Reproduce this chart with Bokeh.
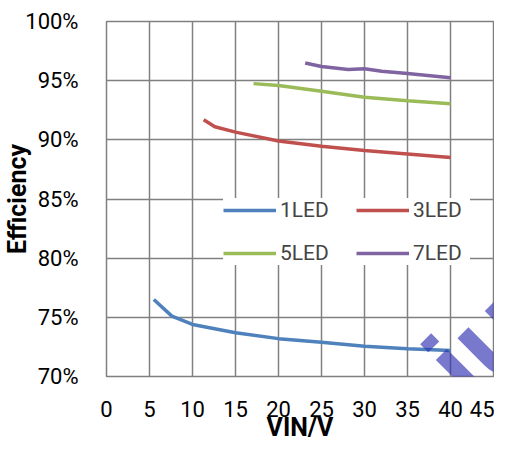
from bokeh.plotting import figure
from bokeh.models import Legend, LegendItem, Label, FixedTicker, PrintfTickFormatter, Range1d
from bokeh.embed import file_html
from bokeh.resources import INLINE

# Data
x_1led = [5.5, 7.6, 10, 15, 20, 25, 30, 35, 40]
y_1led = [76.5, 75.1, 74.4, 73.7, 73.2, 72.9, 72.55, 72.35, 72.2]
x_3led = [11.3, 12.6, 15, 20, 25, 30, 35, 40]
y_3led = [91.7, 91.1, 90.65, 89.9, 89.45, 89.1, 88.8, 88.5]
x_5led = [17.1, 20, 25, 30, 35, 40]
y_5led = [94.75, 94.6, 94.1, 93.6, 93.3, 93.05]
x_7led = [23.1, 25, 28.1, 30, 32, 35, 40]
y_7led = [96.5, 96.2, 95.95, 96.0, 95.8, 95.6, 95.25]
series_names = ["1LED", "3LED", "5LED", "7LED"]
series_colors = ["#4F81BD", "#C0504D", "#9BBB59", "#8064A2"]
x_ticks = [0, 5, 10, 15, 20, 25, 30, 35, 40, 45]
y_ticks = [70, 75, 80, 85, 90, 95, 100]

FONT = "Roboto"
GRID = "#808080"

p = figure(frame_width=387, frame_height=355, output_backend="svg", toolbar_location=None,
           x_range=Range1d(0, 45), y_range=Range1d(70, 100),
           min_border_left=104, min_border_right=1, min_border_top=21, min_border_bottom=66)
p.outline_line_color = GRID
p.outline_line_width = 1.5
p.background_fill_color = "white"
p.border_fill_color = "white"

for ax in (p.xaxis[0], p.yaxis[0]):
    ax.axis_line_color = None
    ax.major_tick_line_color = None
    ax.minor_tick_line_color = None
    ax.major_label_text_font = FONT
    ax.major_label_text_font_size = "22px"
    ax.major_label_text_color = "black"
    ax.axis_label_text_font = FONT
    ax.axis_label_text_font_style = "bold"
    ax.axis_label_text_font_size = "25px"
    ax.axis_label_text_color = "black"

p.xaxis.ticker = FixedTicker(ticks=x_ticks)
p.yaxis.ticker = FixedTicker(ticks=y_ticks)
p.yaxis.formatter = PrintfTickFormatter(format="%d%%")
p.xaxis.major_label_standoff = 18
p.yaxis.major_label_standoff = 22
p.xaxis.axis_label = "VIN/V"
p.yaxis.axis_label = "Efficiency"
p.xaxis.axis_label_standoff = -7
p.yaxis.axis_label_standoff = -10

p.xgrid.ticker = FixedTicker(ticks=x_ticks)
p.ygrid.ticker = FixedTicker(ticks=y_ticks)
for g in (p.xgrid[0], p.ygrid[0]):
    g.grid_line_color = GRID
    g.grid_line_width = 1.5
    g.level = "underlay"

xs = [x_1led, x_3led, x_5led, x_7led]
ys = [y_1led, y_3led, y_5led, y_7led]
items = {}
for name, color, xv, yv in zip(series_names, series_colors, xs, ys):
    r = p.line(xv, yv, line_color=color, line_width=3.5)
    items[name] = LegendItem(label=name, renderers=[r])

# column-major filling: 1LED/5LED in column 1, 3LED/7LED in column 2
legend = Legend(items=[items["1LED"], items["5LED"], items["3LED"], items["7LED"]],
                location=(117, 111), ncols=2,
                background_fill_color="white", background_fill_alpha=1.0,
                border_line_color=None,
                label_text_font=FONT, label_text_font_size="21px",
                glyph_width=53, glyph_height=20, label_standoff=4,
                label_width=57, label_height=20, spacing=19, padding=12, margin=0)
p.add_layout(legend, "center")

wm = Label(x=294, y=-48, x_units="screen", y_units="screen", text="siu",
           angle=45, angle_units="deg", text_font="'Liberation Sans', Arial, sans-serif",
           text_font_style="bold", text_baseline="alphabetic", text_align="left",
           text_font_size="113px", text_color="#2f2fb0", text_alpha=0.65)
p.add_layout(wm)

open("out.html", "w").write(file_html(p, INLINE))
